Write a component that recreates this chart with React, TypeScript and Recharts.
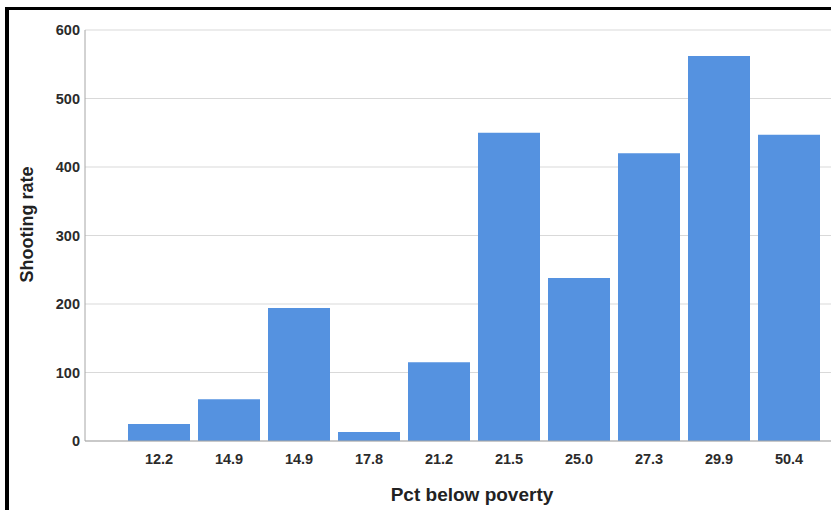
import React from 'react';
import { BarChart, Bar, XAxis, YAxis, CartesianGrid } from 'recharts';

// Pct below poverty (categories, in the order shown)
const povertyLabels = ['12.2', '14.9', '14.9', '17.8', '21.2', '21.5', '25.0', '27.3', '29.9', '50.4'];
// Shooting rate per category
const shootingRates = [25, 61, 194, 13, 115, 450, 238, 420, 562, 447];
const yTicks = [0, 100, 200, 300, 400, 500, 600];

const data = povertyLabels.map((label, i) => ({ id: i, label, rate: shootingRates[i] }));

const FONT = '"Liberation Sans", Arial, sans-serif';
const tickStyle = { fill: '#2b2b2b', fontSize: 14.5, fontWeight: 'bold', fontFamily: FONT };

const YTitle = ({ viewBox }: any) => {
  const cy = viewBox.y + viewBox.height / 2 - 11;
  return (
    <text
      x={33}
      y={cy}
      transform={`rotate(-90, 33, ${cy})`}
      textAnchor="middle"
      fontFamily={FONT}
      fontSize={18}
      fontWeight="bold"
      fill="#222"
    >
      Shooting rate
    </text>
  );
};

export default function App() {
  return (
    <div style={{ position: 'absolute', left: 0, top: 0, width: 831, height: 510, background: '#fff', overflow: 'hidden' }}>
      <div
        style={{
          position: 'absolute',
          left: 5,
          top: 7,
          width: 840,
          height: 520,
          borderLeft: '4px solid #000',
          borderTop: '3px solid #000',
        }}
      />
      <div style={{ position: 'absolute', left: 0, top: 0 }}>
        <BarChart
          width={831}
          height={510}
          data={data}
          margin={{ top: 30, right: 0, bottom: 0, left: 0 }}
        >
          <CartesianGrid vertical={false} stroke="#d9d9d9" />
          <XAxis
            dataKey="id"
            type="category"
            height={69}
            padding={{ left: 39, right: 7 }}
            tickFormatter={(i: number) => povertyLabels[i]}
            tickLine={false}
            tickSize={0}
            tickMargin={13}
            stroke="#a6a6a6"
            tick={tickStyle}
            label={{
              value: 'Pct below poverty',
              position: 'insideBottom',
              offset: 9,
              dx: 14,
              style: { fill: '#222', fontSize: 19, fontWeight: 'bold', fontFamily: FONT },
            }}
          />
          <YAxis
            width={85}
            domain={[0, 600]}
            ticks={yTicks}
            tickLine={false}
            tickSize={0}
            tickMargin={5}
            stroke="#a6a6a6"
            tick={tickStyle}
            label={<YTitle />}
          />
          <Bar dataKey="rate" fill="#5592e0" barSize={62} isAnimationActive={false} />
        </BarChart>
      </div>
    </div>
  );
}
